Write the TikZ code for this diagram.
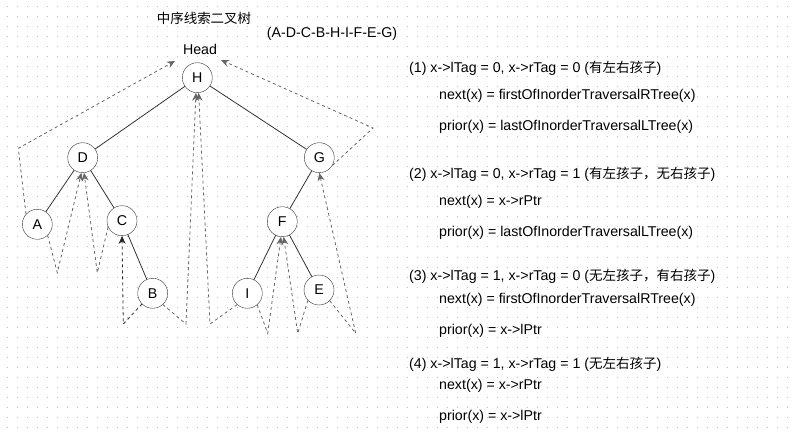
\documentclass[tikz,border=0pt]{standalone}
\usepackage{fontspec}
\setmainfont{Liberation Sans}
\newfontfamily\cjk{Noto Sans CJK SC}[Scale=0.95]
\usetikzlibrary{arrows.meta}

\begin{document}
\begin{tikzpicture}[x=1pt, y=-1pt, >=Stealth,
    every node/.style={font=\fontsize{14.2}{16}\selectfont},
    vertex/.style={draw=black!80, circle, minimum size=30pt, inner sep=0pt, fill=white},
    branch/.style={draw=black!80, line width=0.8pt},
    thread/.style={draw=black!60, dash pattern=on 3pt off 3pt, line width=0.8pt,
        -{Stealth[length=8pt, width=7pt]}},
    txt/.style={anchor=west, inner sep=0pt}]
    % 背景及点阵
    \fill[white] (0,0) rectangle (796,433);
    \useasboundingbox (0,0) rectangle (796,433);
    \foreach \y in {7,17,...,427} {
        \draw[black!25, line width=1pt, dash pattern=on 1pt off 9pt] (6.5,\y) -- (796,\y);
    }

    % 标题
    \node (title) at (204,18.8) {\cjk 中序线索二叉树};
    \node (seq) at (332,34) {(A-D-C-B-H-I-F-E-G)};
    \node (head) at (200,49) {Head};

    % 树的结点
    \node[vertex] (H) at (197.3,77.7) {H};
    \node[vertex] (D) at (82.7,157.7) {D};
    \node[vertex] (G) at (319.3,157.7) {G};
    \node[vertex] (A) at (37.3,224.3) {A};
    \node[vertex] (C) at (122,220.7) {C};
    \node[vertex] (F) at (282.3,221.7) {F};
    \node[vertex] (B) at (152.7,293.3) {B};
    \node[vertex] (I) at (247.3,293.3) {I};
    \node[vertex] (E) at (319,290) {E};

    % 树枝
    \draw[branch] (H) -- (D);
    \draw[branch] (H) -- (G);
    \draw[branch] (D) -- (A);
    \draw[branch] (D) -- (C);
    \draw[branch] (C) -- (B);
    \draw[branch] (G) -- (F);
    \draw[branch] (F) -- (I);
    \draw[branch] (F) -- (E);

    % 线索的折点
    \coordinate (hl) at (175,61);
    \coordinate (hr) at (221,60);
    \coordinate (ta1) at (18.3,148.3);
    \coordinate (ta2) at (57.3,272.7);
    \coordinate (tc) at (97.3,272.7);
    \coordinate (tb1) at (123.3,324);
    \coordinate (tb2) at (186,324);
    \coordinate (ti1) at (210,324);
    \coordinate (ti2) at (267.7,333.3);
    \coordinate (te1) at (297.7,333.3);
    \coordinate (te2) at (355.7,333.3);
    \coordinate (tg) at (373,128);

    % 线索
    \draw[thread] (A.138) -- (ta1) -- (hl);
    \draw[thread] (A.-47) -- (ta2) -- (D.-95);
    \draw[thread] (C.204) -- (tc) -- (D.-85);
    \draw[thread, draw=black!85] (B.-135) -- (tb1) -- (C.south);
    \draw[thread] (B.-48) -- (tb2) -- (H.-95);
    \draw[thread] (I.-132) -- (ti1) -- (H.-85);
    \draw[thread] (I.-49) -- (ti2) -- (F.-95);
    \draw[thread] (E.-137) -- (te1) -- (F.-85);
    \draw[thread] (E.-45) -- (te2) -- (G.south);
    \draw[thread] (G.-31) -- (tg) -- (hr);

    % 右侧说明
    \node[txt] (case1) at (409,68) {(1) x->lTag = 0, x->rTag = 0 ({\cjk 有左右孩子})};
    \node[txt] (next1) at (439,95.5) {next(x) = firstOfInorderTraversalRTree(x)};
    \node[txt] (prior1) at (439,127) {prior(x) = lastOfInorderTraversalLTree(x)};

    \node[txt] (case2) at (409,174) {(2) x->lTag = 0, x->rTag = 1 ({\cjk 有左孩子，无右孩子})};
    \node[txt] (next2) at (439,201.5) {next(x) = x->rPtr};
    \node[txt] (prior2) at (439,233) {prior(x) = lastOfInorderTraversalLTree(x)};

    \node[txt] (case3) at (409,276) {(3) x->lTag = 1, x->rTag = 0 ({\cjk 无左孩子，有右孩子})};
    \node[txt] (next3) at (439,300) {next(x) = firstOfInorderTraversalRTree(x)};
    \node[txt] (prior3) at (439,331) {prior(x) = x->lPtr};

    \node[txt] (case4) at (409,364) {(4) x->lTag = 1, x->rTag = 1 ({\cjk 无左右孩子})};
    \node[txt] (next4) at (439,385.5) {next(x) = x->rPtr};
    \node[txt] (prior4) at (439,417) {prior(x) = x->lPtr};
\end{tikzpicture}
\end{document}
